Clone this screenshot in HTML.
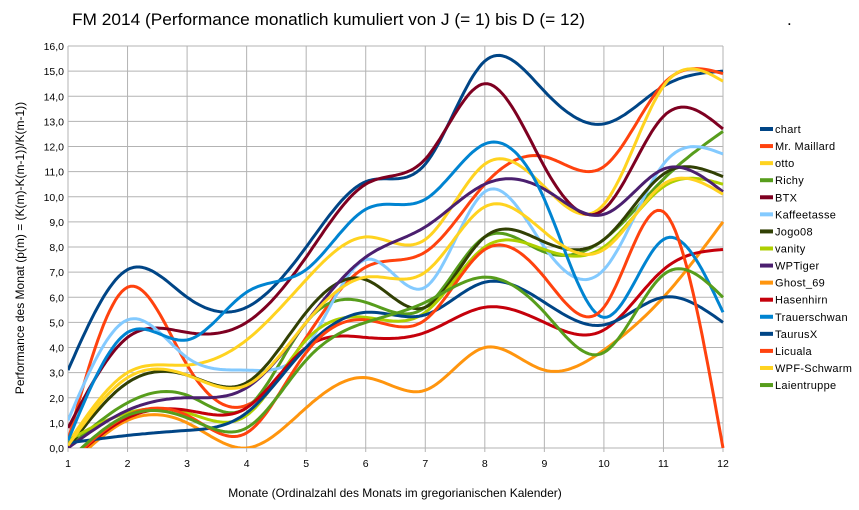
<!DOCTYPE html>
<html><head><meta charset="utf-8"><style>
body{margin:0;background:#fff;}
svg{display:block;font-family:"Liberation Sans",sans-serif;}
</style></head><body>
<svg id="c" width="859" height="510"></svg>
<script>
const months=[1,2,3,4,5,6,7,8,9,10,11,12];
const yTicks=["0,0","1,0","2,0","3,0","4,0","5,0","6,0","7,0","8,0","9,0","10,0","11,0","12,0","13,0","14,0","15,0","16,0"];
const names=["chart","Mr. Maillard","otto","Richy","BTX","Kaffeetasse","Jogo08","vanity","WPTiger","Ghost_69","Hasenhirn","Trauerschwan","TaurusX","Licuala","WPF-Schwarm","Laientruppe"];
const colors=["#004586","#ff420e","#ffd320","#579d1c","#7e0021","#83caff","#314004","#aecf00","#4b1f6f","#ff950e","#c5000b","#0084d1","#004586","#ff420e","#ffd320","#579d1c"];
const sChart=[3.1,7.1,6.0,5.6,8.0,10.6,11.3,15.4,14.2,12.9,14.4,15.0];
const sMaillard=[0.3,6.4,3.3,1.7,4.4,7.2,7.8,10.5,11.6,11.2,14.5,14.9];
const sOtto=[0.2,3.0,3.3,4.3,6.7,8.4,8.3,11.3,10.4,9.7,14.4,14.6];
const sRichy=[0,1.8,2.1,1.6,5.0,5.8,5.6,8.4,7.8,8.3,10.7,12.6];
const sBTX=[0.8,4.4,4.6,5.0,7.6,10.5,11.5,14.5,11.2,9.5,13.2,12.7];
const sKaffee=[1.1,5.1,3.6,3.1,4.0,7.5,6.4,10.2,8.0,7.1,11.3,11.7];
const sJogo=[0,2.6,2.9,2.6,5.4,6.7,5.6,8.4,8.2,8.3,10.9,10.8];
const sVanity=[0.3,1.4,1.4,1.3,4.3,5.2,5.4,8.0,7.9,8.0,10.4,10.5];
const sWPTiger=[0,1.5,2.0,2.4,5.0,7.6,8.8,10.5,10.3,9.3,11.1,10.2];
const sGhost=[-0.8,1.1,1.0,0.0,1.6,2.8,2.3,4.0,3.1,3.9,6.0,9.0];
const sHasen=[-0.6,1.2,1.5,1.6,4.0,4.4,4.6,5.6,5.0,4.7,7.1,7.9];
const sTrauer=[0.3,4.6,4.3,6.2,7.1,9.5,9.9,12.1,9.9,5.2,8.3,5.4];
const sTaurus=[0.2,0.5,0.7,1.4,4.0,5.4,5.3,6.6,5.8,4.9,6.0,5.0];
const sLicuala=[-0.6,1.3,1.3,0.6,3.8,5.1,5.1,7.9,6.8,5.6,9.4,0];
const sWPF=[0.1,2.8,2.9,2.5,5.0,6.8,7.0,9.6,8.6,7.9,10.5,10.1];
const sLaien=[-0.5,1.3,1.2,0.8,3.5,5.0,5.8,6.8,5.4,3.8,6.9,6.0];
const series=[sChart,sMaillard,sOtto,sRichy,sBTX,sKaffee,sJogo,sVanity,sWPTiger,sGhost,sHasen,sTrauer,sTaurus,sLicuala,sWPF,sLaien];

const NS="http://www.w3.org/2000/svg";
const svg=document.getElementById('c');
const L=68,R=723,T=46,B=448,yMax=16;
const xS=m=>L+(m-1)*(R-L)/11;
const yS=v=>B-v*(B-T)/yMax;
function mk(t,a,p){const e=document.createElementNS(NS,t);for(const k in a)e.setAttribute(k,a[k]);(p||svg).appendChild(e);return e;}

const title=mk('text',{x:72,y:25,'font-size':17,fill:'#000',textLength:513,lengthAdjust:'spacingAndGlyphs'});
title.textContent="FM 2014 (Performance monatlich kumuliert von J (= 1) bis D (= 12)";


const dot=mk('text',{x:787,y:25,'font-size':17});dot.textContent=".";



const defs=mk('defs',{});
const cp=mk('clipPath',{id:'pc'},defs);mk('rect',{x:L,y:T-10,width:R-L+3,height:B-T+10},cp);

for(let i=0;i<yTicks.length;i++){
  const y=yS(i);
  const g=mk('line',{x1:L,x2:R,y1:y,y2:y,stroke:'#b3b3b3','stroke-width':1});
  
  
  const t=mk('text',{x:64,y:y+4,'font-size':10.5,'text-anchor':'end'});t.textContent=yTicks[i];
  
  
}
for(const m of months){
  const x=xS(m);
  const g=mk('line',{x1:x,x2:x,y1:T,y2:B+4,stroke:'#b3b3b3','stroke-width':1});
  
  
  const t=mk('text',{x:x,y:467,'font-size':10.5,'text-anchor':'middle'});t.textContent=m;
  
  
}
const yt=mk('text',{x:0,y:0,'font-size':12,'text-anchor':'middle',transform:'translate(24,248) rotate(-90)'});
yt.textContent="Performance des Monat (p(m) = (K(m)-K(m-1))/K(m-1))";


const xt=mk('text',{x:395,y:497,'font-size':12,'text-anchor':'middle'});
xt.textContent="Monate (Ordinalzahl des Monats im gregorianischen Kalender)";



function spline(ys){
  const n=ys.length,M=new Array(n).fill(0);
  const cp2=new Array(n).fill(0),dp=new Array(n).fill(0);
  for(let i=1;i<n-1;i++){
    const rhs=6*(ys[i+1]-2*ys[i]+ys[i-1]);
    const m=4-cp2[i-1];cp2[i]=1/m;dp[i]=(rhs-dp[i-1])/m;
  }
  for(let i=n-2;i>0;i--)M[i]=dp[i]-cp2[i]*M[i+1];
  const pts=[];
  for(let i=0;i<n-1;i++){
    for(let s=0;s<=20;s++){
      const t=s/20;
      const v=(1-t)*ys[i]+t*ys[i+1]+((Math.pow(1-t,3)-(1-t))*M[i]+(Math.pow(t,3)-t)*M[i+1])/6;
      pts.push([xS(months[i]+t),yS(v)]);
    }
  }
  return pts;
}
const plot=mk('g',{'clip-path':'url(#pc)'});
series.forEach((s,k)=>{
  const p=spline(s);
  const path=mk('path',{d:'M'+p.map(q=>q[0].toFixed(1)+','+q[1].toFixed(1)).join('L'),fill:'none',stroke:colors[k],'stroke-width':3,'stroke-linejoin':'round'},plot);
  
  
});

const leg=mk('g',{});


names.forEach((n,k)=>{
  const y=129+k*17.07;
  const g=mk('g',{},leg);
  
  
  mk('rect',{x:760,y:y-2,width:13,height:4,fill:colors[k]},g);
  const t=mk('text',{x:775,y:y+4,'font-size':11,'letter-spacing':'0.3'},g);t.textContent=n;
});
</script>
</body></html>
